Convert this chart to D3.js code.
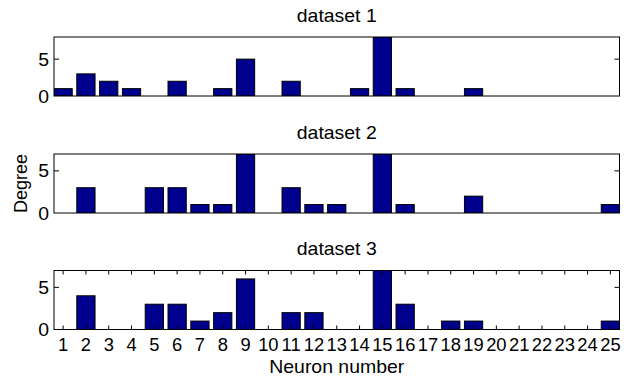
<!DOCTYPE html>
<html>
<head>
<meta charset="utf-8">
<script src="https://cdn.jsdelivr.net/npm/d3@7"></script>
<style>
html,body{margin:0;padding:0;background:#fff;}
svg{display:block;}
text{font-family:"Liberation Sans",Arial,Helvetica,sans-serif;fill:#000;}
</style>
</head>
<body>
<svg id="chart" width="634" height="377"></svg>
<script>
const neurons = d3.range(1, 26);
const tickLabels = neurons.map(String);
const titles = ["dataset 1", "dataset 2", "dataset 3"];
const dataset1 = [1,3,2,1,0,2,0,1,5,0,2,0,0,1,8,1,0,0,1,0,0,0,0,0,0];
const dataset2 = [0,3,0,0,3,3,1,1,7,0,3,1,1,0,7,1,0,0,2,0,0,0,0,0,1];
const dataset3 = [0,4,0,0,3,3,1,2,6,0,2,2,0,0,7,3,0,1,1,0,0,0,0,0,1];
const yMax = [8, 7, 7];
const yTicks = [0, 5];
const xLabel = "Neuron number";
const yLabel = "Degree";

const datasets = [dataset1, dataset2, dataset3];
const svg = d3.select("#chart");
const left = 54, right = 619.5;
const tops = [37, 154, 270.5];
const ph = 59;
const fs = 18;
const barColor = "#00008F";

const x = d3.scaleLinear().domain([0.6, 25.4]).range([left, right]);
const barW = 0.8 * (x(2) - x(1));

function txt(g, xx, yy, s, anchor, sx) {
  return g.append("text")
    .attr("transform", `translate(${xx},${yy}) scale(${sx || 1.08},1)`)
    .attr("text-anchor", anchor)
    .style("font-size", fs + "px")
    .text(s);
}

datasets.forEach((data, i) => {
  const top = tops[i];
  const y = d3.scaleLinear().domain([0, yMax[i]]).range([top + ph, top]);
  const g = svg.append("g");
  g.append("defs").append("clipPath").attr("id", "clip" + i)
    .append("rect").attr("x", left).attr("y", top).attr("width", right - left).attr("height", ph);
  const bars = g.append("g").attr("clip-path", `url(#clip${i})`);
  bars.selectAll("rect").data(data).join("rect")
    .attr("x", (d, j) => x(neurons[j]) - barW / 2)
    .attr("y", d => y(d))
    .attr("width", barW)
    .attr("height", d => y(0) - y(d))
    .attr("fill", barColor)
    .attr("stroke", "#000")
    .attr("stroke-width", 1);
  g.append("rect").attr("x", left).attr("y", top).attr("width", right - left).attr("height", ph)
    .attr("fill", "none").attr("stroke", "#000").attr("stroke-width", 1);
  yTicks.forEach(t => {
    const yy = y(t);
    if (t !== 0) {
      g.append("line").attr("x1", left).attr("x2", left + 5).attr("y1", yy).attr("y2", yy).attr("stroke", "#000");
      g.append("line").attr("x1", right).attr("x2", right - 5).attr("y1", yy).attr("y2", yy).attr("stroke", "#000");
    }
    txt(g, left - 5, yy + 6.5, String(t), "end");
  });
  txt(g, (left + right) / 2, top - 15.5, titles[i], "middle");
  if (i === 2) {
    neurons.forEach((n, j) => {
      const xx = x(n);
      g.append("line").attr("x1", xx).attr("x2", xx).attr("y1", top).attr("y2", top + 4).attr("stroke", "#000");
      g.append("line").attr("x1", xx).attr("x2", xx).attr("y1", top + ph).attr("y2", top + ph - 4).attr("stroke", "#000");
      txt(g, xx, 351, tickLabels[j], "middle", 1.02);
    });
    txt(g, (left + right) / 2, 373, xLabel, "middle");
  }
});
svg.append("text")
  .attr("transform", `translate(27,${tops[1] + ph / 2}) rotate(-90)`)
  .attr("text-anchor", "middle")
  .style("font-size", fs + "px")
  .text(yLabel);
</script>
</body>
</html>
